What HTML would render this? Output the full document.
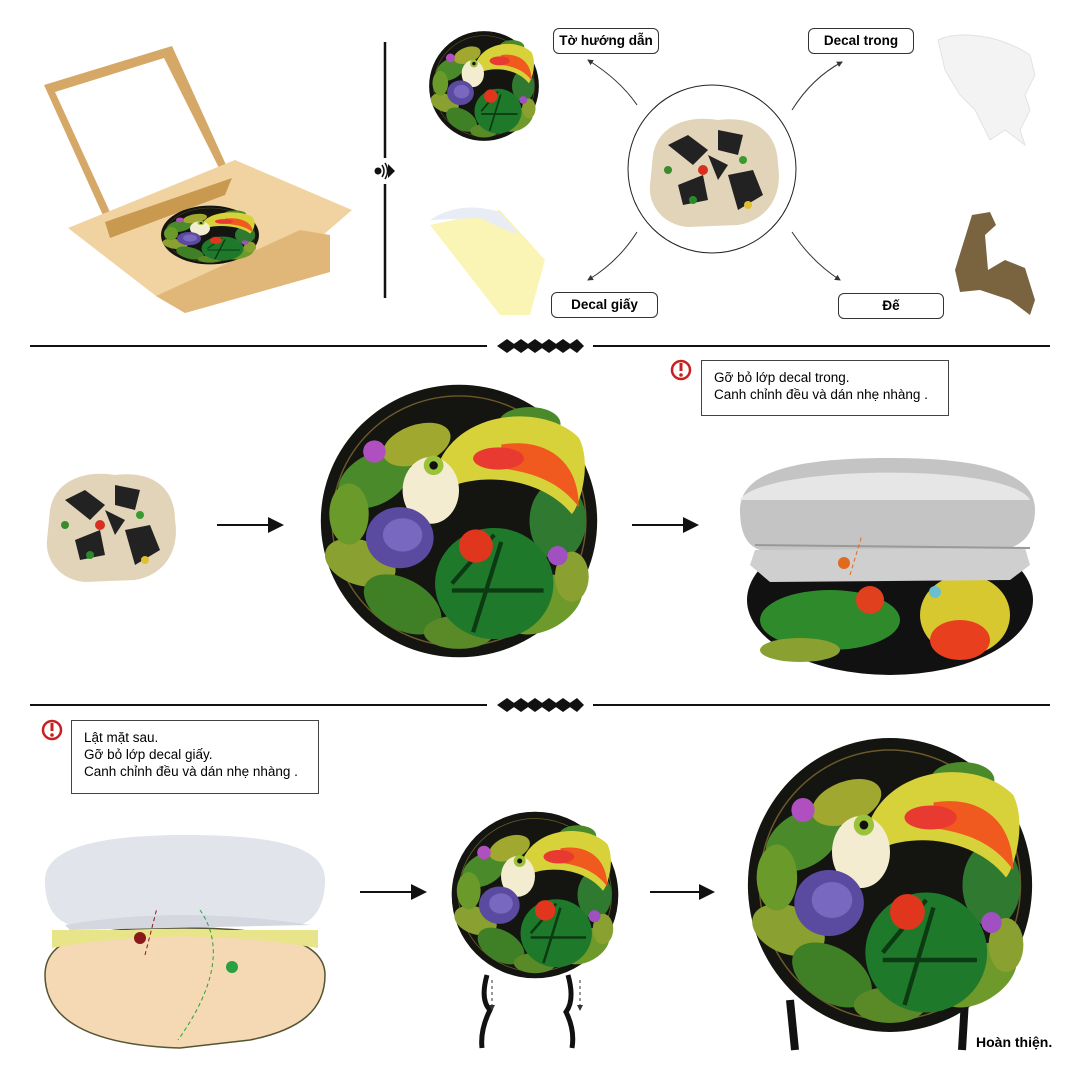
<!DOCTYPE html>
<html><head><meta charset="utf-8"><style>
body{margin:0;background:#fff;width:1080px;height:1080px;overflow:hidden;position:relative;font-family:"Liberation Sans","Noto Sans CJK SC",sans-serif}
.lbl{position:absolute;border:1px solid #333;border-radius:6px;background:#fff;font-weight:bold;font-size:13.5px;text-align:center;line-height:24px;height:24px}
.note{position:absolute;border:1px solid #444;background:#fff;font-size:13.5px;line-height:17px;padding:8px 12px;box-sizing:border-box}
svg{position:absolute;left:0;top:0}
</style></head><body>
<svg width="1080" height="1080" viewBox="0 0 1080 1080">
<defs>
<g id="art">
<circle cx="100" cy="100" r="98" fill="#141410"/>
<circle cx="100" cy="100" r="90" fill="none" stroke="#6a5a2a" stroke-width="1"/>
<ellipse cx="40" cy="70" rx="28" ry="18" fill="#4a8a2a" transform="rotate(-30 40 70)"/>
<ellipse cx="30" cy="130" rx="26" ry="16" fill="#8aa030" transform="rotate(20 30 130)"/>
<ellipse cx="60" cy="160" rx="30" ry="18" fill="#3f7f25" transform="rotate(30 60 160)"/>
<ellipse cx="160" cy="160" rx="30" ry="18" fill="#6d9a2a" transform="rotate(-30 160 160)"/>
<ellipse cx="170" cy="100" rx="20" ry="28" fill="#2f7a30"/>
<ellipse cx="100" cy="180" rx="25" ry="12" fill="#5a8a28"/>
<ellipse cx="22" cy="95" rx="14" ry="22" fill="#6a9a2a"/>
<ellipse cx="180" cy="140" rx="12" ry="18" fill="#8aa030"/>
<ellipse cx="125" cy="145" rx="42" ry="40" fill="#1e7a2a"/>
<path d="M95 145 L125 110 M95 150 L160 150 M110 180 L130 115" stroke="#0c3a12" stroke-width="3"/>
<ellipse cx="70" cy="45" rx="25" ry="14" fill="#a0a830" transform="rotate(-20 70 45)"/>
<ellipse cx="150" cy="30" rx="22" ry="12" fill="#4a8a2a"/>
<path d="M85 60 C100 20 160 15 185 40 C195 60 185 90 180 95 C160 70 120 65 95 75 Z" fill="#d8d23a"/>
<path d="M130 45 C160 40 185 55 185 90 C170 70 150 65 130 62 Z" fill="#f05a1e"/>
<ellipse cx="128" cy="55" rx="18" ry="8" fill="#e83a30"/>
<ellipse cx="80" cy="78" rx="20" ry="24" fill="#f4ecd0"/>
<circle cx="82" cy="60" r="7" fill="#9ac23a"/><circle cx="82" cy="60" r="3" fill="#111"/>
<ellipse cx="58" cy="112" rx="24" ry="22" fill="#5a4aa0"/>
<ellipse cx="60" cy="110" rx="14" ry="12" fill="#7868c0"/>
<circle cx="112" cy="118" r="12" fill="#e0361e"/>
<circle cx="40" cy="50" r="8" fill="#b050c0"/>
<circle cx="170" cy="125" r="7" fill="#a050c0"/>
</g>
<g id="pile">
<path d="M5 40 C10 10 40 0 70 5 C110 0 130 20 130 50 C135 80 120 105 90 110 L40 112 C15 110 0 90 2 70 Z" fill="#e2d4b8"/>
<path d="M20 30 L40 20 L60 35 L45 50 Z M70 15 L95 20 L90 40 L70 35 Z M30 70 L55 60 L60 85 L35 90 Z M80 60 L105 55 L115 80 L90 95 Z M60 40 L80 50 L70 65 Z" fill="#222"/>
<circle cx="55" cy="55" r="5" fill="#d83020"/><circle cx="95" cy="45" r="4" fill="#3a9a30"/><circle cx="45" cy="85" r="4" fill="#2a8a2a"/><circle cx="100" cy="90" r="4" fill="#e0c030"/><circle cx="20" cy="55" r="4" fill="#3a8a30"/>
</g>
<marker id="ah" markerWidth="8" markerHeight="8" refX="7" refY="4" orient="auto"><path d="M0 0 L8 4 L0 8 Z" fill="#111"/></marker>
<marker id="ah2" markerWidth="6" markerHeight="6" refX="5" refY="3" orient="auto"><path d="M0 0 L6 3 L0 6 Z" fill="#333"/></marker>
</defs>

<!-- box -->
<polygon points="44,85 172,46 232,178 106,222" fill="#d5a868"/>
<polygon points="55,92 164,58 222,174 110,212" fill="#fff"/>
<polygon points="68,228 235,160 352,210 322,236 330,272 185,313 156,296" fill="#f0d3a0"/>
<polygon points="156,296 185,313 330,272 330,235 300,230" fill="#e0b778"/>
<polygon points="105,222 232,178 225,195 110,238" fill="#c8994e"/>
<g transform="translate(160,205) scale(0.5,0.3)"><use href="#art"/></g>
<!-- divider -->
<line x1="385" y1="42" x2="385" y2="158" stroke="#111" stroke-width="2.5"/>
<line x1="385" y1="184" x2="385" y2="298" stroke="#111" stroke-width="2.5"/>
<circle cx="378" cy="171" r="3.5" fill="#111"/>
<path d="M382 165 Q386 171 382 177 M385 163 Q390 171 385 179" stroke="#111" fill="none" stroke-width="1.5"/>
<polygon points="388,164 395,171 388,178" fill="#111"/>
<!-- top items -->
<g transform="translate(428,30) scale(0.56)"><use href="#art"/></g>
<circle cx="712" cy="169" r="84" fill="#fff" stroke="#222" stroke-width="1"/>
<g transform="translate(648,115)"><use href="#pile"/></g>
<path d="M938 40 C960 30 1000 35 1030 55 L1035 75 L1025 95 L1030 110 L1020 130 L1025 145 L1005 130 L990 140 L975 110 L960 95 L945 70 Z" fill="#f3f3f3" stroke="#e2e2e2"/>
<polygon points="430,225 500,210 545,260 530,315 500,315" fill="#fbf5b5"/>
<path d="M430 220 Q460 200 500 212 L520 235 Q500 228 480 218 Z" fill="#e8ecf4"/>
<path d="M955 270 L972 215 L990 212 L996 225 L985 235 L988 270 L1005 260 L1025 268 L1035 300 L1030 315 L1010 300 L980 290 L960 292 Z" fill="#7a6440"/>
<path d="M637 105 Q620 80 588 60" stroke="#333" fill="none" marker-end="url(#ah2)"/>
<path d="M792 110 Q812 78 842 62" stroke="#333" fill="none" marker-end="url(#ah2)"/>
<path d="M637 232 Q618 262 588 280" stroke="#333" fill="none" marker-end="url(#ah2)"/>
<path d="M792 232 Q812 262 840 280" stroke="#333" fill="none" marker-end="url(#ah2)"/>
<!-- separators -->
<line x1="30" y1="346" x2="487" y2="346" stroke="#111" stroke-width="2"/>
<line x1="593" y1="346" x2="1050" y2="346" stroke="#111" stroke-width="2"/>
<g fill="#111">
<polygon points="497,346 507,339 517,346 507,353"/><polygon points="511,346 521,339 531,346 521,353"/><polygon points="525,346 535,339 545,346 535,353"/><polygon points="539,346 549,339 559,346 549,353"/><polygon points="553,346 563,339 573,346 563,353"/><polygon points="567,346 577,339 584,346 577,353"/>
</g>
<line x1="30" y1="705" x2="487" y2="705" stroke="#111" stroke-width="2"/>
<line x1="593" y1="705" x2="1050" y2="705" stroke="#111" stroke-width="2"/>
<g fill="#111">
<polygon points="497,705 507,698 517,705 507,712"/><polygon points="511,705 521,698 531,705 521,712"/><polygon points="525,705 535,698 545,705 535,712"/><polygon points="539,705 549,698 559,705 549,712"/><polygon points="553,705 563,698 573,705 563,712"/><polygon points="567,705 577,698 584,705 577,712"/>
</g>
<!-- middle -->
<g transform="translate(45,470)"><use href="#pile"/></g>
<line x1="217" y1="525" x2="282" y2="525" stroke="#111" stroke-width="2" marker-end="url(#ah)"/>
<g transform="translate(318,382) scale(1.41,1.39)"><use href="#art"/></g>
<line x1="632" y1="525" x2="697" y2="525" stroke="#111" stroke-width="2" marker-end="url(#ah)"/>
<ellipse cx="890" cy="600" rx="143" ry="75" fill="#111"/>
<ellipse cx="830" cy="620" rx="70" ry="30" fill="#2e8a2a"/>
<ellipse cx="800" cy="650" rx="40" ry="12" fill="#8aa030"/>
<ellipse cx="965" cy="615" rx="45" ry="40" fill="#d8c830"/>
<ellipse cx="960" cy="640" rx="30" ry="20" fill="#e8401e"/>
<circle cx="870" cy="600" r="14" fill="#e0401e"/>
<path d="M740 510 C740 470 800 458 890 458 C990 458 1035 475 1035 510 C1035 535 1020 548 1000 550 L760 550 C745 545 740 530 740 510 Z" fill="#c4c4c4"/>
<path d="M740 500 C760 465 1010 462 1030 500" fill="#e6e6e6"/>
<path d="M755 550 L1025 548 L1030 565 L1010 580 L770 582 L750 565 Z" fill="#cfcfcf"/>
<path d="M755 545 L1030 548" stroke="#999" stroke-width="2"/>
<path d="M850 575 L862 535" stroke="#e06a20" stroke-dasharray="4 3" fill="none"/>
<circle cx="844" cy="563" r="6" fill="#e06a20"/>
<circle cx="935" cy="592" r="6" fill="#6ac0d0"/>
<!-- bottom -->
<line x1="360" y1="892" x2="425" y2="892" stroke="#111" stroke-width="2" marker-end="url(#ah)"/>
<path d="M45 975 C45 930 110 928 185 928 C270 928 325 940 325 975 C325 1010 300 1030 250 1040 L180 1048 C90 1045 45 1020 45 975 Z" fill="#f4d9b4" stroke="#553" stroke-width="1.5"/>
<path d="M52 948 Q180 925 318 948 L318 930 L52 930 Z" fill="#e8e48a"/>
<path d="M45 880 C45 845 110 835 185 835 C270 835 325 845 325 880 C325 905 315 920 300 925 L70 925 C50 918 45 900 45 880 Z" fill="#e2e4ec"/>
<path d="M65 925 Q180 905 310 925 L70 930 Z" fill="#d4d6e0"/>
<path d="M145 955 L157 908" stroke="#8a1a1a" stroke-dasharray="4 3" fill="none"/>
<circle cx="140" cy="938" r="6" fill="#8a1a1a"/>
<path d="M200 910 Q235 960 178 1040" stroke="#2aa040" stroke-dasharray="4 3" fill="none"/>
<circle cx="232" cy="967" r="6" fill="#2aa040"/>
<g transform="translate(450,810) scale(0.85)"><use href="#art"/></g>
<path d="M487 975 Q480 1000 490 1010 Q480 1030 482 1048" stroke="#111" stroke-width="5" fill="none"/>
<path d="M568 975 Q575 1000 566 1012 Q575 1030 572 1048" stroke="#111" stroke-width="5" fill="none"/>
<path d="M492 980 L492 1010" stroke="#333" stroke-dasharray="3 3" marker-end="url(#ah2)"/>
<path d="M580 980 L580 1010" stroke="#333" stroke-dasharray="3 3" marker-end="url(#ah2)"/>
<line x1="650" y1="892" x2="713" y2="892" stroke="#111" stroke-width="2" marker-end="url(#ah)"/>
<path d="M790 1000 L795 1050 M965 1000 L962 1050" stroke="#111" stroke-width="8"/>
<g transform="translate(745,735) scale(1.45,1.5)"><use href="#art"/></g>
<!-- warn icons -->
<circle cx="681" cy="370" r="9" fill="#fff" stroke="#c8201e" stroke-width="2.5"/>
<rect x="679.5" y="363" width="3" height="8" fill="#c8201e"/><circle cx="681" cy="375" r="1.8" fill="#c8201e"/>
<circle cx="52" cy="730" r="9" fill="#fff" stroke="#c8201e" stroke-width="2.5"/>
<rect x="50.5" y="723" width="3" height="8" fill="#c8201e"/><circle cx="52" cy="735" r="1.8" fill="#c8201e"/>
</svg>
<div class="lbl" style="left:553px;top:28px;width:104px">Tờ hướng dẫn</div>
<div class="lbl" style="left:808px;top:28px;width:104px">Decal trong</div>
<div class="lbl" style="left:551px;top:292px;width:105px">Decal giấy</div>
<div class="lbl" style="left:838px;top:293px;width:104px">Đế</div>
<div class="note" style="left:701px;top:360px;width:248px;height:56px">Gỡ bỏ lớp decal trong.<br>Canh chỉnh đều và dán nhẹ nhàng .</div>
<div class="note" style="left:71px;top:720px;width:248px;height:74px">Lật mặt sau.<br>Gỡ bỏ lớp decal giấy.<br>Canh chỉnh đều và dán nhẹ nhàng .</div>
<div style="position:absolute;left:976px;top:1034px;font-weight:bold;font-size:14px">Hoàn thiện.</div>
</body></html>
